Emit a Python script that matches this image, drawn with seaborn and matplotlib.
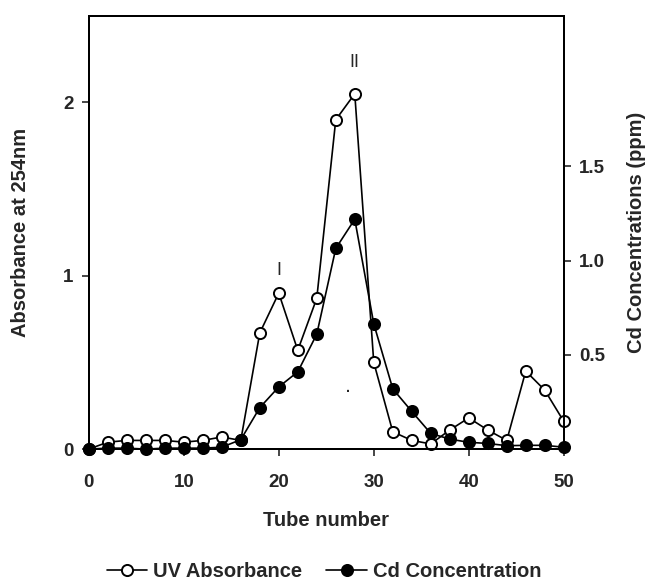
import numpy as np
import pandas as pd
import matplotlib
matplotlib.use("Agg")
import matplotlib.pyplot as plt
import seaborn as sns
from matplotlib.lines import Line2D

# --- data (every second tube) ---
tubes = [0, 2, 4, 6, 8, 10, 12, 14, 16, 18, 20, 22, 24, 26, 28,
         30, 32, 34, 36, 38, 40, 42, 44, 46, 48, 50]
uv_absorbance = [0.0, 0.04, 0.05, 0.05, 0.05, 0.04, 0.05, 0.07, 0.05, 0.67,
                 0.90, 0.57, 0.87, 1.90, 2.05, 0.50, 0.10, 0.05, 0.03, 0.11,
                 0.18, 0.11, 0.05, 0.45, 0.34, 0.16]
cd_conc = [0.0, 0.005, 0.005, 0.0, 0.005, 0.005, 0.005, 0.01, 0.05, 0.22,
           0.33, 0.41, 0.61, 1.065, 1.22, 0.665, 0.32, 0.20, 0.083, 0.053,
           0.036, 0.03, 0.018, 0.02, 0.02, 0.01]

x_ticks = [0, 10, 20, 30, 40, 50]
left_ticks = [0, 1, 2]
right_ticks = [0.5, 1.0, 1.5]
right_ticklabels = ["0.5", "1.0", "1.5"]

df = pd.DataFrame({"tube": tubes, "uv": uv_absorbance, "cd": cd_conc})

sns.set_style("ticks")
plt.rcParams["font.family"] = ["Liberation Sans", "DejaVu Sans"]
plt.rcParams["font.weight"] = "bold"
FS_TICK = 13.5
FS_LABEL = 14.5

fig = plt.figure(figsize=(6.48, 5.84), dpi=100)
ax = fig.add_axes([0.137, 0.231, 0.733, 0.742])
ax2 = ax.twinx()

sns.lineplot(data=df, x="tube", y="uv", ax=ax, color="black", linewidth=1.2,
             marker="o", markersize=8, markerfacecolor="white",
             markeredgecolor="black", markeredgewidth=1.4, clip_on=False,
             zorder=3)
sns.lineplot(data=df, x="tube", y="cd", ax=ax2, color="black", linewidth=1.2,
             marker="o", markersize=8, markerfacecolor="black",
             markeredgecolor="black", markeredgewidth=1.4, clip_on=False,
             zorder=4)

ax.set_xlim(0, 50)
ax.set_ylim(0, 2.5)
ax2.set_ylim(0, 2.3)

ax.set_xticks(x_ticks)
ax.set_yticks(left_ticks)
ax2.set_yticks(right_ticks)
ax2.set_yticklabels(right_ticklabels)

for a in (ax, ax2):
    for s in a.spines.values():
        s.set_linewidth(1.4)
        s.set_color("black")
    a.tick_params(labelsize=FS_TICK, width=1.2, length=5, direction="out", pad=6)
ax.tick_params(axis="x", pad=13)

ax.set_xlabel("Tube number", fontsize=FS_LABEL, fontweight="bold", labelpad=14)
ax.set_ylabel("Absorbance at 254nm", fontsize=FS_LABEL, fontweight="bold", labelpad=24)
ax2.set_ylabel("Cd Concentrations (ppm)", fontsize=FS_LABEL, fontweight="bold", labelpad=16)

# peak annotations
ax.text(20, 1.03, "I", ha="center", va="center", fontsize=13, fontweight="normal")
ax.text(28, 2.23, "II", ha="center", va="center", fontsize=13, fontweight="normal")
ax.text(27.3, 0.35, ".", ha="center", va="center", fontsize=10)

handles = [
    Line2D([], [], color="black", linewidth=1.2, marker="o", markersize=8,
           markerfacecolor="white", markeredgecolor="black", markeredgewidth=1.4),
    Line2D([], [], color="black", linewidth=1.2, marker="o", markersize=8,
           markerfacecolor="black", markeredgecolor="black", markeredgewidth=1.4),
]
fig.legend(handles, ["UV Absorbance", "Cd Concentration"], loc="center",
           bbox_to_anchor=(0.5, 0.022), ncol=2, frameon=False, fontsize=FS_LABEL,
           handlelength=2.0, handletextpad=0.3, columnspacing=1.2,
           borderpad=0.0)

fig.savefig("out.png", dpi=100)
